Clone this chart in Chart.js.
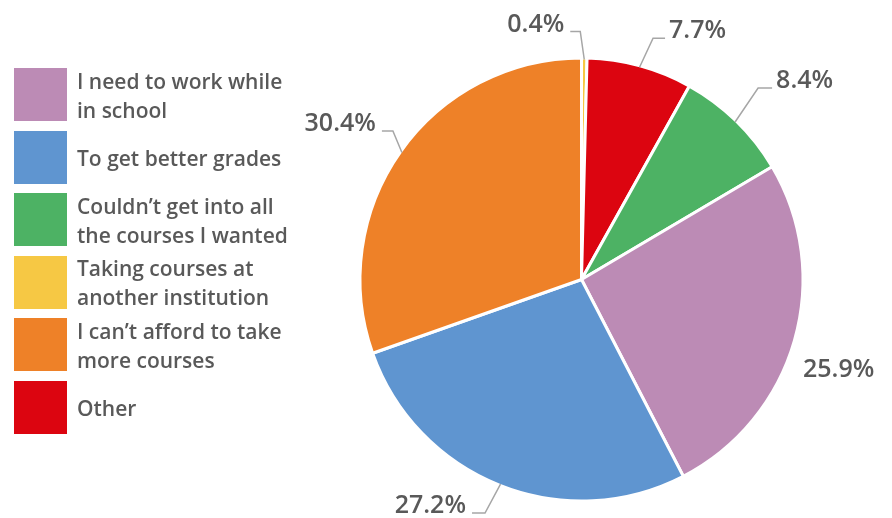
<!DOCTYPE html>
<html>
<head>
<meta charset="utf-8">
<script src="https://cdn.jsdelivr.net/npm/chart.js@4.4.0/dist/chart.umd.min.js"></script>
<style>
  html, body { margin: 0; padding: 0; background: #fff; }
  #wrap { position: relative; width: 892px; height: 518px; overflow: hidden; }
  #pieChart { position: absolute; left: 0; top: 0; }
  #legend { position: absolute; left: 14px; top: 68px; display: flex; flex-direction: column; gap: 9.6px; }
  .item { display: flex; align-items: center; height: 53px; }
  .box { width: 53px; height: 53px; flex: none; }
  .txt { margin-left: 10px; padding-top: 2px; width: 214px; font: 600 21px "Open Sans", sans-serif; line-height: 29px; color: #595959; }
</style>
</head>
<body>
<div id="wrap">
  <canvas id="pieChart" width="892" height="518"></canvas>
  <div id="legend"></div>
</div>
<script>
// Survey answers, legend order
const categories = [
  'I need to work while in school',
  'To get better grades',
  'Couldn’t get into all the courses I wanted',
  'Taking courses at another institution',
  'I can’t afford to take more courses',
  'Other'
];
const values = [25.9, 27.2, 8.4, 0.4, 30.4, 7.7];
const colors = ['#BC8BB5', '#5F95D0', '#4DB264', '#F6C844', '#EE8128', '#DC0510'];

// order the slices are drawn in, clockwise from 12 o'clock
const pieOrder = [3, 5, 2, 0, 1, 4];

// leader line placement per category (elbow offset from slice edge, horizontal run)
const leaders = [
  { text: [10, 37] },
  { elbow: [-15.5, 29], run: -13 },
  { elbow: [23, -34], run: 14 },
  { elbow: [-4, -28], run: -10 },
  { elbow: [-9, -21.5], run: -11 },
  { elbow: [13.5, -29], run: 12 }
];

// html legend
const legendEl = document.getElementById('legend');
categories.forEach((c, i) => {
  const row = document.createElement('div');
  row.className = 'item';
  row.innerHTML = '<div class="box" style="background:' + colors[i] + '"></div><div class="txt"></div>';
  row.querySelector('.txt').textContent = c;
  legendEl.appendChild(row);
});

const outsideLabels = {
  id: 'outsideLabels',
  afterDatasetsDraw(chart) {
    const ctx = chart.ctx;
    const meta = chart.getDatasetMeta(0);
    ctx.save();
    ctx.font = '600 25px "Open Sans", sans-serif';
    ctx.fillStyle = '#595959';
    ctx.strokeStyle = '#A6A6A6';
    ctx.lineWidth = 1.5;
    ctx.textBaseline = 'alphabetic';
    meta.data.forEach((arc, k) => {
      const idx = pieOrder[k];
      const p = arc.getProps(['x', 'y', 'startAngle', 'endAngle', 'outerRadius'], true);
      const mid = (p.startAngle + p.endAngle) / 2;
      const ex = p.x + Math.cos(mid) * (p.outerRadius - 1.5);
      const ey = p.y + Math.sin(mid) * (p.outerRadius - 1.5);
      const lab = values[idx].toFixed(1) + '%';
      const L = leaders[idx];
      if (!L.elbow) {
        ctx.textAlign = 'left';
        ctx.fillText(lab, ex + L.text[0], ey + L.text[1]);
        return;
      }
      const bx = ex + L.elbow[0], by = ey + L.elbow[1];
      const hx = bx + L.run;
      ctx.beginPath();
      ctx.moveTo(ex, ey);
      ctx.lineTo(bx, by);
      ctx.lineTo(hx, by);
      ctx.stroke();
      if (L.run > 0) {
        ctx.textAlign = 'left';
        ctx.fillText(lab, hx + 4, by);
      } else {
        ctx.textAlign = 'right';
        ctx.fillText(lab, hx - 6, by);
      }
    });
    ctx.restore();
  }
};

new Chart(document.getElementById('pieChart'), {
  type: 'pie',
  data: {
    labels: pieOrder.map(i => categories[i]),
    datasets: [{
      data: pieOrder.map(i => values[i]),
      backgroundColor: pieOrder.map(i => colors[i]),
      borderColor: '#ffffff',
      borderWidth: 3
    }]
  },
  options: {
    responsive: false,
    animation: false,
    radius: 221.5,
    layout: { padding: { left: 361, right: 90, top: 59, bottom: 18 } },
    plugins: {
      legend: { display: false },
      tooltip: { enabled: false }
    }
  },
  plugins: [outsideLabels]
});
</script>
</body>
</html>
